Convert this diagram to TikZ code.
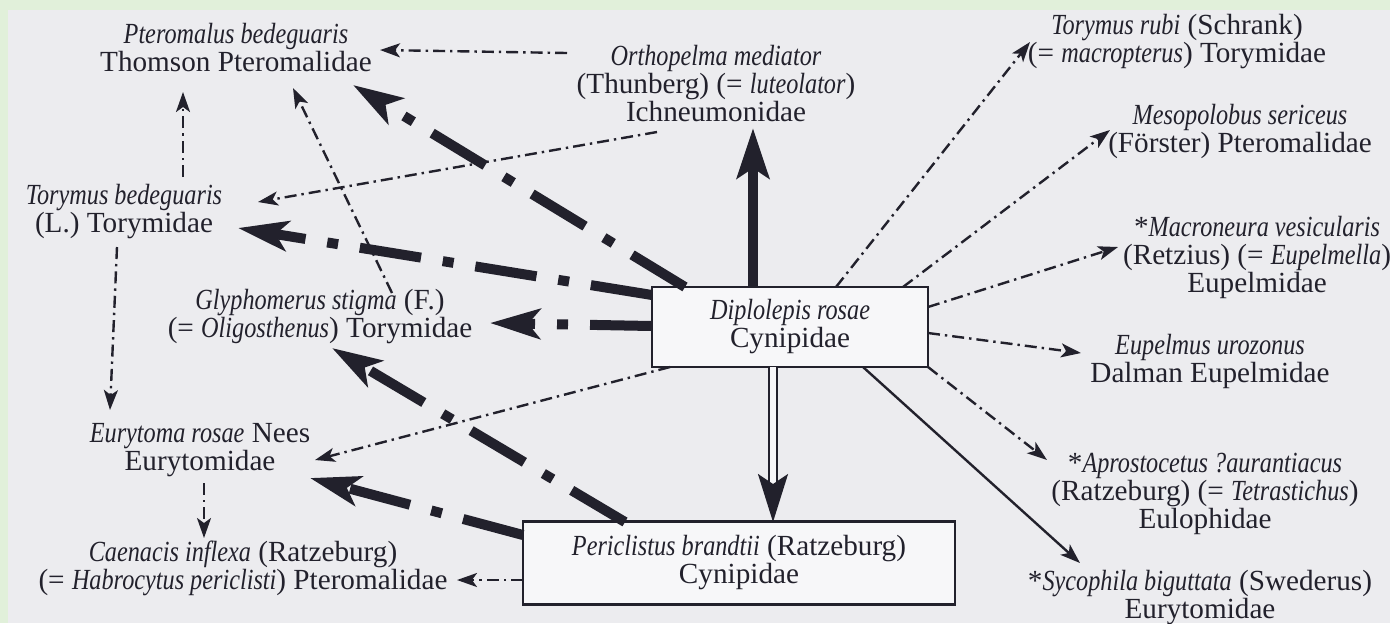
\documentclass[tikz,border=0pt]{standalone}
\usepackage{fontspec}
\setmainfont{Liberation Serif}[ItalicFeatures={FakeStretch=0.83}]
\usepackage{tikz}
\usetikzlibrary{arrows.meta,calc}
\definecolor{ink}{RGB}{34,33,44}
\definecolor{page}{RGB}{236,236,239}
\definecolor{frame}{RGB}{225,240,218}
\tikzset
{
    species/.style   = {align=center, inner sep=0pt, text=ink, font=\fontsize{14.6}{14}\selectfont},
    hostbox/.style   = {species, draw=ink, fill=white!60!page, line width=1.3pt},
    thinlink/.style  = {draw=ink, line width=1.2pt, dash pattern=on 6pt off 2.5pt on 1.2pt off 2.5pt, -{Stealth[length=10pt,width=7pt,inset=2.5pt]}},
    thicklink/.style = {draw=ink, line width=5pt, dash pattern=on 31pt off 11pt on 5.5pt off 11pt, -{Stealth[length=25pt,width=15pt,inset=6pt]}},
    mainlink/.style  = {draw=ink, line width=5pt, -{Stealth[length=25pt,width=16pt,inset=5pt]}},
    dbllink/.style   = {draw=ink, line width=1.2pt, double=white!60!page, double distance=2.6pt, -{Stealth[length=24pt,width=15pt,inset=5pt]}},
    solidlink/.style = {draw=ink, line width=1.2pt, -{Stealth[length=10pt,width=7pt,inset=2.5pt]}}
}

\begin{document}
\begin{tikzpicture}[x=0.5pt, y=-0.5pt]
    \useasboundingbox (0,0) rectangle (1390,623);
    \fill[frame] (0,0) rectangle (1390,623);
    \fill[page] (8,10) rectangle (1390,623);

    % host galls
    \node [hostbox, minimum width=138pt, minimum height=40pt] (dip) at (790,327) {\textit{Diplolepis rosae}\\Cynipidae};
    \node [hostbox, minimum width=216pt, minimum height=41.5pt] (peri) at (739,563) {\textit{Periclistus brandtii} (Ratzeburg)\\Cynipidae};

    % left side
    \node [species] (ptero) at (236,48) {\textit{Pteromalus bedeguaris}\\Thomson Pteromalidae};
    \node [species] (ortho) at (716,84) {\textit{Orthopelma mediator}\\(Thunberg) (= \textit{luteolator})\\Ichneumonidae};
    \node [species] (torb) at (124,212) {\textit{Torymus bedeguaris}\\(L.) Torymidae};
    \node [species] (glyph) at (320,317) {\textit{Glyphomerus stigma} (F.)\\(= \textit{Oligosthenus}) Torymidae};
    \node [species] (euryt) at (200,450) {\textit{Eurytoma rosae} Nees\\Eurytomidae};
    \node [species] (caen) at (243,568) {\textit{Caenacis inflexa} (Ratzeburg)\\(= \textit{Habrocytus periclisti}) Pteromalidae};

    % right side
    \node [species] (torrubi) at (1177,42) {\textit{Torymus rubi} (Schrank)\\(= \textit{macropterus}) Torymidae};
    \node [species] (meso) at (1240,131) {\textit{Mesopolobus sericeus}\\(F\"orster) Pteromalidae};
    \node [species] (macro) at (1257,257) {*\textit{Macroneura vesicularis}\\(Retzius) (= \textit{Eupelmella})\\Eupelmidae};
    \node [species] (eupel) at (1210,361) {\textit{Eupelmus urozonus}\\Dalman Eupelmidae};
    \node [species] (apro) at (1205,494) {*\textit{Aprostocetus ?aurantiacus}\\(Ratzeburg) (= \textit{Tetrastichus})\\Eulophidae};
    \node [species] (syco) at (1200,598) {*\textit{Sycophila biguttata} (Swederus)\\Eurytomidae};

    \draw[mainlink] ($(dip)+(-37,-40)$) -- ($(ortho)+(37,44)$);
    \draw[dbllink] ($(dip)+(-17,40)$) -- ($(peri)+(34,-41)$);

    \draw[thicklink] ($(dip)+(-105,-40)$) -- ($(ptero)+(117,37)$);
    \draw[thicklink] ($(dip)+(-138,-32)$) -- ($(torb)+(114,16)$);
    \draw[thicklink] ($(dip)+(-138,-1)$) -- ($(glyph)+(170,6)$);
    \draw[thicklink] ($(peri)+(-114,-41)$) -- ($(glyph)+(12,31)$);
    \draw[thicklink] ($(peri)+(-216,-28)$) -- ($(euryt)+(110,28)$);

    \draw[thinlink] ($(ortho)+(-149,-31)$) -- ($(ptero)+(144,2)$);
    \draw[thinlink] ($(ortho)+(-59,48)$) -- ($(torb)+(134,-10)$);
    \draw[thinlink] ($(glyph)+(72,-24)$) -- ($(ptero)+(57,40)$);
    \draw[thinlink] ($(torb)+(59,-35)$) -- ($(ptero)+(-53,44)$);
    \draw[thinlink] ($(torb)+(-7,35)$) -- ($(euryt)+(-90,-40)$);
    \draw[thinlink] ($(dip)+(-120,40)$) -- ($(euryt)+(115,10)$);
    \draw[thinlink] ($(euryt)+(4,33)$) -- ($(caen)+(-39,-30)$);
    \draw[thinlink] ($(peri)+(-216,17)$) -- ($(caen)+(214,12)$);

    \draw[thinlink] ($(dip)+(46,-40)$) -- ($(torrubi)+(-147,0)$);
    \draw[thinlink] ($(dip)+(113,-40)$) -- ($(meso)+(-130,-1)$);
    \draw[thinlink] ($(dip)+(138,-20)$) -- ($(macro)+(-139,-10)$);
    \draw[thinlink] ($(dip)+(138,6)$) -- ($(eupel)+(-129,-8)$);
    \draw[thinlink] ($(dip)+(138,40)$) -- ($(apro)+(-158,-34)$);
    \draw[solidlink] ($(dip)+(73,40)$) -- ($(syco)+(-120,-35)$);
\end{tikzpicture}
\end{document}
